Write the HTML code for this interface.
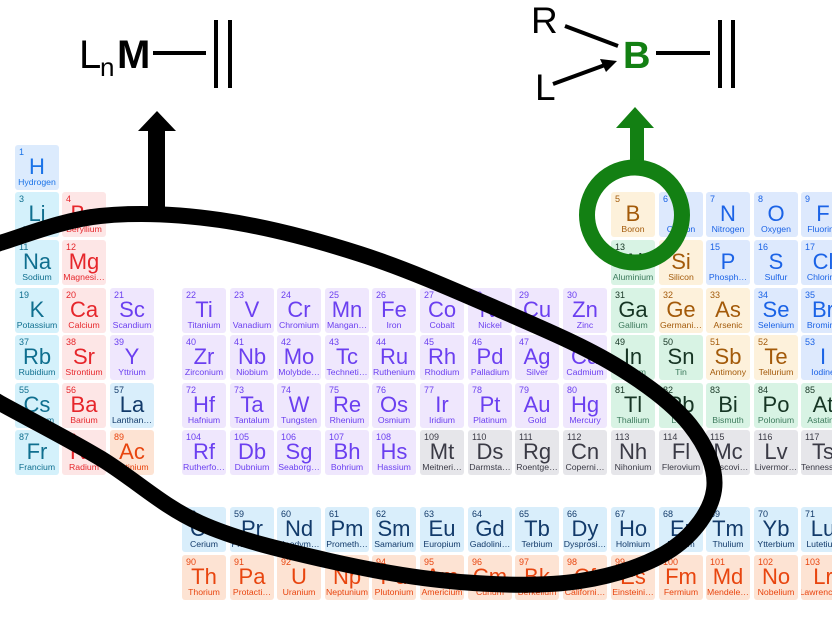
<!DOCTYPE html>
<html><head><meta charset="utf-8"><style>
*{margin:0;padding:0}
body{width:832px;height:624px;background:#fff;position:relative;overflow:hidden;font-family:"Liberation Sans",sans-serif}
.c{position:absolute;width:44px;height:45px;border-radius:3px;overflow:hidden;text-align:center}
.c i{position:absolute;left:4px;top:2px;font-style:normal;font-size:9px}
.c b{position:absolute;left:0;right:0;top:10px;font-weight:normal;font-size:22px;line-height:24px}
.c u{position:absolute;left:-2px;right:-2px;bottom:3px;text-decoration:none;font-size:8.7px;white-space:nowrap}
.h{background:#dcebfd;color:#1a73e8}
.al{background:#d4f1fb;color:#0f6f8f}
.ae{background:#fde6e6;color:#e6262b}
.tm{background:#efe7fd;color:#6b3ff0}
.la{background:#d9eefb;color:#123a6a}
.ac{background:#fde3d3;color:#e8450f}
.pt{background:#d8f3e4;color:#163524}.pt u{color:#3c7a5c}
.md{background:#fdf1db;color:#a35a0a}
.nm{background:#dde9fd;color:#1b63e6}
.un{background:#e6e6ea;color:#3a3a45}
</style></head><body>
<div class="c h" style="left:15px;top:145px"><i>1</i><b>H</b><u>Hydrogen</u></div>
<div class="c al" style="left:15px;top:192px"><i>3</i><b>Li</b><u>Lithium</u></div>
<div class="c ae" style="left:62px;top:192px"><i>4</i><b>Be</b><u>Beryllium</u></div>
<div class="c md" style="left:611px;top:192px"><i>5</i><b>B</b><u>Boron</u></div>
<div class="c nm" style="left:659px;top:192px"><i>6</i><b>C</b><u>Carbon</u></div>
<div class="c nm" style="left:706px;top:192px"><i>7</i><b>N</b><u>Nitrogen</u></div>
<div class="c nm" style="left:754px;top:192px"><i>8</i><b>O</b><u>Oxygen</u></div>
<div class="c nm" style="left:801px;top:192px"><i>9</i><b>F</b><u>Fluorine</u></div>

<div class="c al" style="left:15px;top:240px"><i>11</i><b>Na</b><u>Sodium</u></div>
<div class="c ae" style="left:62px;top:240px"><i>12</i><b>Mg</b><u>Magnesi…</u></div>
<div class="c pt" style="left:611px;top:240px"><i>13</i><b>Al</b><u>Aluminium</u></div>
<div class="c md" style="left:659px;top:240px"><i>14</i><b>Si</b><u>Silicon</u></div>
<div class="c nm" style="left:706px;top:240px"><i>15</i><b>P</b><u>Phosph…</u></div>
<div class="c nm" style="left:754px;top:240px"><i>16</i><b>S</b><u>Sulfur</u></div>
<div class="c nm" style="left:801px;top:240px"><i>17</i><b>Cl</b><u>Chlorine</u></div>

<div class="c al" style="left:15px;top:288px"><i>19</i><b>K</b><u>Potassium</u></div>
<div class="c ae" style="left:62px;top:288px"><i>20</i><b>Ca</b><u>Calcium</u></div>
<div class="c tm" style="left:110px;top:288px"><i>21</i><b>Sc</b><u>Scandium</u></div>
<div class="c tm" style="left:182px;top:288px"><i>22</i><b>Ti</b><u>Titanium</u></div>
<div class="c tm" style="left:230px;top:288px"><i>23</i><b>V</b><u>Vanadium</u></div>
<div class="c tm" style="left:277px;top:288px"><i>24</i><b>Cr</b><u>Chromium</u></div>
<div class="c tm" style="left:325px;top:288px"><i>25</i><b>Mn</b><u>Mangan…</u></div>
<div class="c tm" style="left:372px;top:288px"><i>26</i><b>Fe</b><u>Iron</u></div>
<div class="c tm" style="left:420px;top:288px"><i>27</i><b>Co</b><u>Cobalt</u></div>
<div class="c tm" style="left:468px;top:288px"><i>28</i><b>Ni</b><u>Nickel</u></div>
<div class="c tm" style="left:515px;top:288px"><i>29</i><b>Cu</b><u>Copper</u></div>
<div class="c tm" style="left:563px;top:288px"><i>30</i><b>Zn</b><u>Zinc</u></div>
<div class="c pt" style="left:611px;top:288px"><i>31</i><b>Ga</b><u>Gallium</u></div>
<div class="c md" style="left:659px;top:288px"><i>32</i><b>Ge</b><u>Germani…</u></div>
<div class="c md" style="left:706px;top:288px"><i>33</i><b>As</b><u>Arsenic</u></div>
<div class="c nm" style="left:754px;top:288px"><i>34</i><b>Se</b><u>Selenium</u></div>
<div class="c nm" style="left:801px;top:288px"><i>35</i><b>Br</b><u>Bromine</u></div>

<div class="c al" style="left:15px;top:335px"><i>37</i><b>Rb</b><u>Rubidium</u></div>
<div class="c ae" style="left:62px;top:335px"><i>38</i><b>Sr</b><u>Strontium</u></div>
<div class="c tm" style="left:110px;top:335px"><i>39</i><b>Y</b><u>Yttrium</u></div>
<div class="c tm" style="left:182px;top:335px"><i>40</i><b>Zr</b><u>Zirconium</u></div>
<div class="c tm" style="left:230px;top:335px"><i>41</i><b>Nb</b><u>Niobium</u></div>
<div class="c tm" style="left:277px;top:335px"><i>42</i><b>Mo</b><u>Molybde…</u></div>
<div class="c tm" style="left:325px;top:335px"><i>43</i><b>Tc</b><u>Techneti…</u></div>
<div class="c tm" style="left:372px;top:335px"><i>44</i><b>Ru</b><u>Ruthenium</u></div>
<div class="c tm" style="left:420px;top:335px"><i>45</i><b>Rh</b><u>Rhodium</u></div>
<div class="c tm" style="left:468px;top:335px"><i>46</i><b>Pd</b><u>Palladium</u></div>
<div class="c tm" style="left:515px;top:335px"><i>47</i><b>Ag</b><u>Silver</u></div>
<div class="c tm" style="left:563px;top:335px"><i>48</i><b>Cd</b><u>Cadmium</u></div>
<div class="c pt" style="left:611px;top:335px"><i>49</i><b>In</b><u>Indium</u></div>
<div class="c pt" style="left:659px;top:335px"><i>50</i><b>Sn</b><u>Tin</u></div>
<div class="c md" style="left:706px;top:335px"><i>51</i><b>Sb</b><u>Antimony</u></div>
<div class="c md" style="left:754px;top:335px"><i>52</i><b>Te</b><u>Tellurium</u></div>
<div class="c nm" style="left:801px;top:335px"><i>53</i><b>I</b><u>Iodine</u></div>

<div class="c al" style="left:15px;top:383px"><i>55</i><b>Cs</b><u>Caesium</u></div>
<div class="c ae" style="left:62px;top:383px"><i>56</i><b>Ba</b><u>Barium</u></div>
<div class="c la" style="left:110px;top:383px"><i>57</i><b>La</b><u>Lanthan…</u></div>
<div class="c tm" style="left:182px;top:383px"><i>72</i><b>Hf</b><u>Hafnium</u></div>
<div class="c tm" style="left:230px;top:383px"><i>73</i><b>Ta</b><u>Tantalum</u></div>
<div class="c tm" style="left:277px;top:383px"><i>74</i><b>W</b><u>Tungsten</u></div>
<div class="c tm" style="left:325px;top:383px"><i>75</i><b>Re</b><u>Rhenium</u></div>
<div class="c tm" style="left:372px;top:383px"><i>76</i><b>Os</b><u>Osmium</u></div>
<div class="c tm" style="left:420px;top:383px"><i>77</i><b>Ir</b><u>Iridium</u></div>
<div class="c tm" style="left:468px;top:383px"><i>78</i><b>Pt</b><u>Platinum</u></div>
<div class="c tm" style="left:515px;top:383px"><i>79</i><b>Au</b><u>Gold</u></div>
<div class="c tm" style="left:563px;top:383px"><i>80</i><b>Hg</b><u>Mercury</u></div>
<div class="c pt" style="left:611px;top:383px"><i>81</i><b>Tl</b><u>Thallium</u></div>
<div class="c pt" style="left:659px;top:383px"><i>82</i><b>Pb</b><u>Lead</u></div>
<div class="c pt" style="left:706px;top:383px"><i>83</i><b>Bi</b><u>Bismuth</u></div>
<div class="c pt" style="left:754px;top:383px"><i>84</i><b>Po</b><u>Polonium</u></div>
<div class="c pt" style="left:801px;top:383px"><i>85</i><b>At</b><u>Astatine</u></div>

<div class="c al" style="left:15px;top:430px"><i>87</i><b>Fr</b><u>Francium</u></div>
<div class="c ae" style="left:62px;top:430px"><i>88</i><b>Ra</b><u>Radium</u></div>
<div class="c ac" style="left:110px;top:430px"><i>89</i><b>Ac</b><u>Actinium</u></div>
<div class="c tm" style="left:182px;top:430px"><i>104</i><b>Rf</b><u>Rutherfo…</u></div>
<div class="c tm" style="left:230px;top:430px"><i>105</i><b>Db</b><u>Dubnium</u></div>
<div class="c tm" style="left:277px;top:430px"><i>106</i><b>Sg</b><u>Seaborg…</u></div>
<div class="c tm" style="left:325px;top:430px"><i>107</i><b>Bh</b><u>Bohrium</u></div>
<div class="c tm" style="left:372px;top:430px"><i>108</i><b>Hs</b><u>Hassium</u></div>
<div class="c un" style="left:420px;top:430px"><i>109</i><b>Mt</b><u>Meitneri…</u></div>
<div class="c un" style="left:468px;top:430px"><i>110</i><b>Ds</b><u>Darmsta…</u></div>
<div class="c un" style="left:515px;top:430px"><i>111</i><b>Rg</b><u>Roentge…</u></div>
<div class="c un" style="left:563px;top:430px"><i>112</i><b>Cn</b><u>Coperni…</u></div>
<div class="c un" style="left:611px;top:430px"><i>113</i><b>Nh</b><u>Nihonium</u></div>
<div class="c un" style="left:659px;top:430px"><i>114</i><b>Fl</b><u>Flerovium</u></div>
<div class="c un" style="left:706px;top:430px"><i>115</i><b>Mc</b><u>Moscovi…</u></div>
<div class="c un" style="left:754px;top:430px"><i>116</i><b>Lv</b><u>Livermor…</u></div>
<div class="c un" style="left:801px;top:430px"><i>117</i><b>Ts</b><u>Tennessine</u></div>

<div class="c la" style="left:182px;top:507px"><i>58</i><b>Ce</b><u>Cerium</u></div>
<div class="c la" style="left:230px;top:507px"><i>59</i><b>Pr</b><u>Praseod…</u></div>
<div class="c la" style="left:277px;top:507px"><i>60</i><b>Nd</b><u>Neodym…</u></div>
<div class="c la" style="left:325px;top:507px"><i>61</i><b>Pm</b><u>Prometh…</u></div>
<div class="c la" style="left:372px;top:507px"><i>62</i><b>Sm</b><u>Samarium</u></div>
<div class="c la" style="left:420px;top:507px"><i>63</i><b>Eu</b><u>Europium</u></div>
<div class="c la" style="left:468px;top:507px"><i>64</i><b>Gd</b><u>Gadolini…</u></div>
<div class="c la" style="left:515px;top:507px"><i>65</i><b>Tb</b><u>Terbium</u></div>
<div class="c la" style="left:563px;top:507px"><i>66</i><b>Dy</b><u>Dysprosi…</u></div>
<div class="c la" style="left:611px;top:507px"><i>67</i><b>Ho</b><u>Holmium</u></div>
<div class="c la" style="left:659px;top:507px"><i>68</i><b>Er</b><u>Erbium</u></div>
<div class="c la" style="left:706px;top:507px"><i>69</i><b>Tm</b><u>Thulium</u></div>
<div class="c la" style="left:754px;top:507px"><i>70</i><b>Yb</b><u>Ytterbium</u></div>
<div class="c la" style="left:801px;top:507px"><i>71</i><b>Lu</b><u>Lutetium</u></div>

<div class="c ac" style="left:182px;top:555px"><i>90</i><b>Th</b><u>Thorium</u></div>
<div class="c ac" style="left:230px;top:555px"><i>91</i><b>Pa</b><u>Protacti…</u></div>
<div class="c ac" style="left:277px;top:555px"><i>92</i><b>U</b><u>Uranium</u></div>
<div class="c ac" style="left:325px;top:555px"><i>93</i><b>Np</b><u>Neptunium</u></div>
<div class="c ac" style="left:372px;top:555px"><i>94</i><b>Pu</b><u>Plutonium</u></div>
<div class="c ac" style="left:420px;top:555px"><i>95</i><b>Am</b><u>Americium</u></div>
<div class="c ac" style="left:468px;top:555px"><i>96</i><b>Cm</b><u>Curium</u></div>
<div class="c ac" style="left:515px;top:555px"><i>97</i><b>Bk</b><u>Berkelium</u></div>
<div class="c ac" style="left:563px;top:555px"><i>98</i><b>Cf</b><u>Californi…</u></div>
<div class="c ac" style="left:611px;top:555px"><i>99</i><b>Es</b><u>Einsteini…</u></div>
<div class="c ac" style="left:659px;top:555px"><i>100</i><b>Fm</b><u>Fermium</u></div>
<div class="c ac" style="left:706px;top:555px"><i>101</i><b>Md</b><u>Mendele…</u></div>
<div class="c ac" style="left:754px;top:555px"><i>102</i><b>No</b><u>Nobelium</u></div>
<div class="c ac" style="left:801px;top:555px"><i>103</i><b>Lr</b><u>Lawrencium</u></div>

<svg width="832" height="624" style="position:absolute;left:0;top:0" xmlns="http://www.w3.org/2000/svg">
<path fill="none" stroke="#000" stroke-width="16" stroke-linejoin="round" d="M-40,380 L0,403 C23.3,416 66.7,438 100,458 C133.3,478 161.7,505.8 200,523 C238.3,540.2 286.7,551.2 330,561 C373.3,570.8 418.3,578.7 460,582 C501.7,585.3 544.7,586.5 580,581 C615.3,575.5 649.7,564.2 672,549 C694.3,533.8 711,510.7 714,490 C717,469.3 706.5,445.8 690,425 C673.5,404.2 646.7,384.2 615,365 C583.3,345.8 542.5,328.5 500,310 C457.5,291.5 406.7,269 360,254 C313.3,239 263.3,226.3 220,220 C176.7,213.7 136.7,212.2 100,216 C63.3,219.8 23.3,236 0,243 L-40,258"/>
<rect x="148" y="128" width="17" height="84" fill="#000"/>
<polygon points="138,131 176,131 157,111" fill="#000"/>
<text x="79" y="68" font-family="Liberation Sans" font-size="40" fill="#000">L</text>
<text x="100" y="76" font-family="Liberation Sans" font-size="26" fill="#000">n</text>
<text x="117" y="68" font-family="Liberation Sans" font-size="40" font-weight="bold" fill="#000">M</text>
<rect x="153" y="51" width="53" height="4" fill="#000"/>
<rect x="214" y="20" width="4" height="68" fill="#000"/>
<rect x="228" y="20" width="4" height="68" fill="#000"/>

<text x="531" y="33" font-family="Liberation Sans" font-size="37" fill="#000">R</text>
<text x="535" y="100" font-family="Liberation Sans" font-size="37" fill="#000">L</text>
<text x="623" y="68" font-family="Liberation Sans" font-size="38" font-weight="bold" fill="#138013">B</text>
<line x1="565" y1="26" x2="618" y2="46" stroke="#000" stroke-width="4"/>
<line x1="553" y1="84" x2="605" y2="65" stroke="#000" stroke-width="4"/>
<polygon points="617,61 600,59 606,72" fill="#000"/>
<rect x="656" y="51" width="54" height="4" fill="#000"/>
<rect x="718" y="20" width="4" height="68" fill="#000"/>
<rect x="731" y="20" width="4" height="68" fill="#000"/>

<rect x="630" y="126" width="14" height="40" fill="#138013"/>
<polygon points="616,128 654,128 635,107" fill="#138013"/>
<circle cx="634.5" cy="215" r="47.5" fill="none" stroke="#138013" stroke-width="16"/>
</svg>
</body></html>
